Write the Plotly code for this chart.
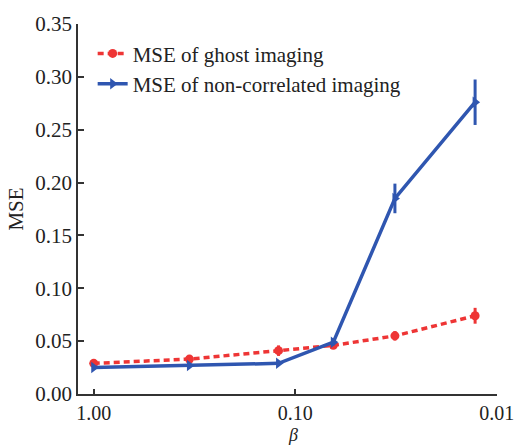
import numpy as np
import plotly.graph_objects as go

# beta values (log axis, reversed) and MSE results
beta = [1.0, 0.335, 0.121, 0.0647, 0.032, 0.0128]

mse_ghost = [0.029, 0.033, 0.041, 0.046, 0.055, 0.074]
err_ghost = [0.003, 0.003, 0.005, 0.003, 0.0045, 0.0075]

mse_noncorr = [0.025, 0.027, 0.029, 0.049, 0.185, 0.276]
err_noncorr = [0.002, 0.002, 0.002, 0.003, 0.014, 0.0215]

x_ticks = [1.0, 0.1, 0.01]
x_tick_labels = ["1.00", "0.10", "0.01"]
y_ticks = [0.0, 0.05, 0.10, 0.15, 0.20, 0.25, 0.30, 0.35]
y_tick_labels = ["0.00", "0.05", "0.10", "0.15", "0.20", "0.25", "0.30", "0.35"]

RED = "#ee3535"
BLUE = "#2f56b0"
FONT = "Liberation Serif"

fig = go.Figure()

fig.add_trace(go.Scatter(
    x=beta, y=mse_ghost, mode="lines+markers",
    name="MSE of ghost imaging",
    line=dict(color=RED, width=3.5, dash="6px,4px"),
    marker=dict(symbol="circle", size=9, color=RED),
    error_y=dict(type="data", array=err_ghost, color=RED, thickness=3, width=0),
))

fig.add_trace(go.Scatter(
    x=beta, y=mse_noncorr, mode="lines+markers",
    name="MSE of non-correlated imaging",
    line=dict(color=BLUE, width=3.5),
    marker=dict(symbol="triangle-right", size=10, color=BLUE),
    error_y=dict(type="data", array=err_noncorr, color=BLUE, thickness=3, width=0),
))

fig.update_layout(
    width=515, height=446,
    margin=dict(l=78, r=18, t=24, b=52),
    paper_bgcolor="white", plot_bgcolor="white",
    font=dict(family=FONT, size=21, color="#222222"),
    showlegend=True,
    legend=dict(
        x=0.035, y=0.975, xanchor="left", yanchor="top",
        bgcolor="rgba(0,0,0,0)", font=dict(family=FONT, size=21),
        itemwidth=30, tracegroupgap=0,
    ),
    annotations=[dict(
        text="<i>β</i>", xref="paper", yref="paper",
        x=0.513, y=-52 / 370, xanchor="center", yanchor="bottom",
        showarrow=False, borderpad=0,
        font=dict(family=FONT, size=18, color="#222222"),
    )],
)

fig.update_xaxes(
    type="log", range=[np.log10(1.197), -2.0015],
    tickvals=x_ticks, ticktext=x_tick_labels,
    tickfont=dict(size=20),
    ticks="inside", ticklen=5, tickwidth=1.5, tickcolor="#333333",
    ticklabeloverflow="allow", automargin=False,
    showline=True, linecolor="#333333", linewidth=1.5,
    showgrid=False, zeroline=False,
)

fig.update_yaxes(
    range=[0, 0.35],
    tickvals=y_ticks, ticktext=y_tick_labels,
    ticks="inside", ticklen=6, tickwidth=1.5, tickcolor="#333333",
    ticklabeloverflow="allow", automargin=False,
    showline=True, linecolor="#333333", linewidth=1.5,
    showgrid=False, zeroline=False,
    title=dict(text="MSE", standoff=6, font=dict(size=21)),
)

fig.write_html("out.html")
